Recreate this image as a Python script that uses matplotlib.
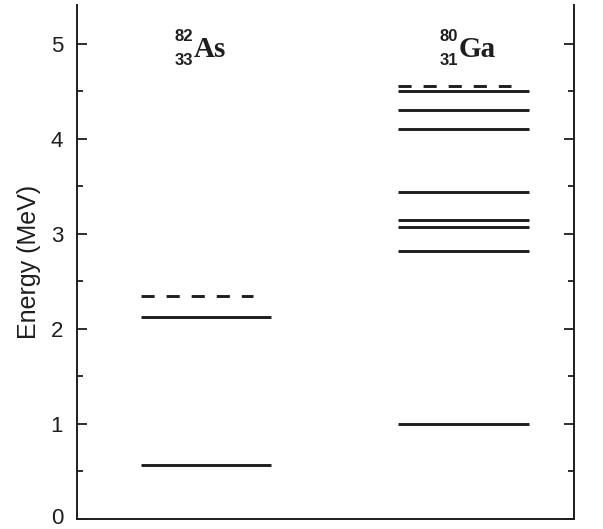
import matplotlib
matplotlib.use("Agg")
import matplotlib.pyplot as plt
from matplotlib.ticker import MultipleLocator

# level energies (MeV)
as_levels = [0.57, 2.13]
as_threshold = 2.35
ga_levels = [1.00, 2.82, 3.07, 3.15, 3.44, 4.10, 4.30, 4.50]
ga_threshold = 4.56

energy_ticks = [0, 1, 2, 3, 4, 5]

nuclei = [
    ("82", "33", "As"),
    ("80", "31", "Ga"),
]

ink = "#1e1e1e"
W, H = 603, 529

fig = plt.figure(figsize=(W / 100, H / 100), dpi=100)
ax = fig.add_axes([77 / W, 10 / H, 497 / W, 514 / H])

# column extents in x-axis units: start, end, end of dashed line
cols = [(0.129, 0.390, 0.354), (0.646, 0.909, 0.873)]
level_sets = [(as_levels, as_threshold), (ga_levels, ga_threshold)]

for (x0, x1, xd), (levels, thr) in zip(cols, level_sets):
    ax.hlines(levels, x0, x1, color=ink, lw=2.1)
    ax.hlines(thr, x0, xd, color=ink, lw=2.1, linestyles=(0, (4.5, 4.1)))

# nucleus labels: mass number over atomic number, then the symbol
label_px = [194, 459]
for (mass, z, sym), px in zip(nuclei, label_px):
    fx = px / W
    fig.text(fx - 0.002, 1 - 41 / H, mass, ha="right", va="baseline",
             fontsize=12, fontweight="bold", family="Liberation Sans", color=ink)
    fig.text(fx - 0.002, 1 - 65 / H, z, ha="right", va="baseline",
             fontsize=12, fontweight="bold", family="Liberation Sans", color=ink)
    fig.text(fx, 1 - 57 / H, sym, ha="left", va="baseline",
             fontsize=21, fontweight="bold", family="Liberation Serif", color=ink)

ax.set_xlim(0, 1)
ax.set_ylim(0, 5.41)
ax.set_xticks([])
ax.set_yticks(energy_ticks)
ax.yaxis.set_minor_locator(MultipleLocator(0.5))
ax.tick_params(axis="y", which="both", direction="in", left=True, right=True,
               color=ink, width=1.3, labelleft=False)
ax.tick_params(axis="y", which="major", length=7)
ax.tick_params(axis="y", which="minor", length=4)

# tick labels drawn by hand so the bottom "0" can sit a little higher
for v in energy_ticks:
    dy = 2 if v == 0 else 0
    ax.annotate(str(v), xy=(0, v), xycoords=("axes fraction", "data"),
                xytext=(-10, dy), textcoords="offset points",
                ha="right", va="center_baseline", fontsize=16,
                family="Liberation Sans", color=ink)

ax.set_ylabel("Energy (MeV)", fontsize=18, family="Liberation Sans", color=ink)
ax.yaxis.set_label_coords(-0.072, 0.5)

ax.spines["top"].set_visible(False)
for side in ["left", "right", "bottom"]:
    ax.spines[side].set_linewidth(1.4)
    ax.spines[side].set_color(ink)

fig.savefig("out.png", dpi=100)
